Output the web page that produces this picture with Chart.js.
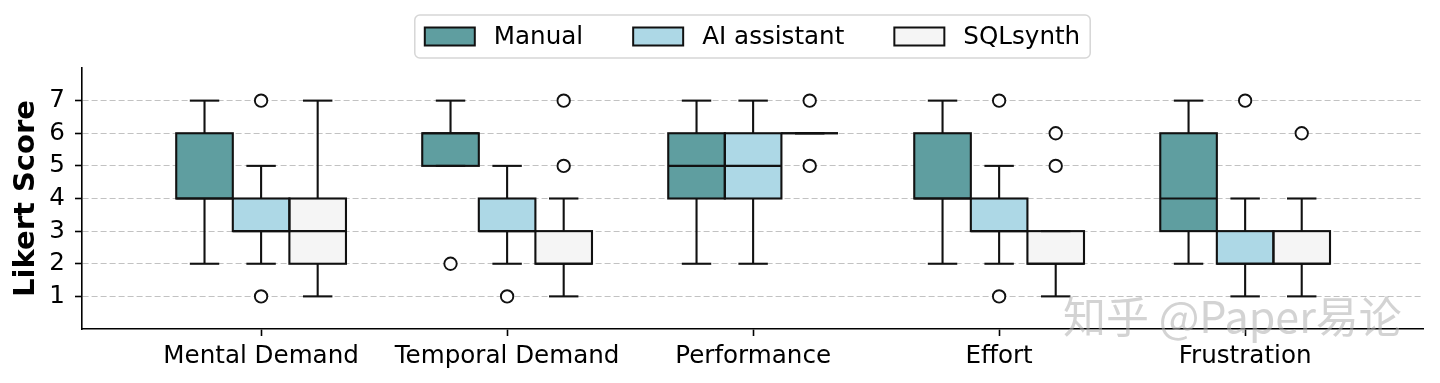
<!DOCTYPE html>
<html>
<head>
<meta charset="utf-8">
<script src="https://cdn.jsdelivr.net/npm/chart.js@4.4.1/dist/chart.umd.min.js"></script>
<style>html,body{margin:0;padding:0;background:#fff}canvas{display:block}</style>
</head>
<body>
<canvas id="c" width="1440" height="383"></canvas>
<script>
// ---- data ----
const categories = ['Mental Demand', 'Temporal Demand', 'Performance', 'Effort', 'Frustration'];
const seriesNames = ['Manual', 'AI assistant', 'SQLsynth'];
const seriesColors = ['#5F9EA0', '#ADD8E6', '#F5F5F5'];
const yTickValues = [1, 2, 3, 4, 5, 6, 7];
const xTickValues = [0, 1, 2, 3, 4];

const manualQ1  = [4, 5, 4, 4, 3];
const manualQ3  = [6, 6, 6, 6, 6];
const manualMed = [4, 6, 5, 4, 4];
const manualLo  = [2, 5, 2, 2, 2];
const manualHi  = [7, 7, 7, 7, 7];
const manualOut = [[], [2], [], [], []];

const aiQ1  = [3, 3, 4, 3, 2];
const aiQ3  = [4, 4, 6, 4, 3];
const aiMed = [3, 3, 5, 3, 2];
const aiLo  = [2, 2, 2, 2, 1];
const aiHi  = [5, 5, 7, 5, 4];
const aiOut = [[1, 7], [1], [], [1, 7], [7]];

const sqlQ1  = [2, 2, 6, 2, 2];
const sqlQ3  = [4, 3, 6, 3, 3];
const sqlMed = [3, 2, 6, 2, 2];
const sqlLo  = [1, 1, 6, 1, 1];
const sqlHi  = [7, 4, 6, 3, 4];
const sqlOut = [[], [5, 7], [5, 7], [5, 6], [6]];

const stats = [
  {q1: manualQ1, q3: manualQ3, med: manualMed, lo: manualLo, hi: manualHi, out: manualOut},
  {q1: aiQ1, q3: aiQ3, med: aiMed, lo: aiLo, hi: aiHi, out: aiOut},
  {q1: sqlQ1, q3: sqlQ3, med: sqlMed, lo: sqlLo, hi: sqlHi, out: sqlOut}
];

const EDGE = '#111111';
const FONT = "'DejaVu Sans', sans-serif";
const TXT = 24.6;
Chart.defaults.font.family = FONT;
Chart.defaults.color = '#000';

const datasets = seriesNames.map((name, si) => ({
  label: name,
  data: categories.map((c, i) => ({x: i, y: [stats[si].q1[i], stats[si].q3[i]]})),
  backgroundColor: seriesColors[si],
  borderWidth: 0,
  borderSkipped: false,
  categoryPercentage: 0.69,
  barPercentage: 1.0
}));

function line(ctx, x1, y1, x2, y2) {
  ctx.beginPath(); ctx.moveTo(x1, y1); ctx.lineTo(x2, y2); ctx.stroke();
}

const boxPlugin = {
  id: 'boxWhiskers',
  afterDatasetsDraw(chart) {
    const ctx = chart.ctx, ys = chart.scales.y;
    ctx.save();
    ctx.strokeStyle = EDGE;
    stats.forEach((s, di) => {
      const meta = chart.getDatasetMeta(di);
      meta.data.forEach((bar, i) => {
        const cx = bar.x, w = bar.width;
        const yq1 = ys.getPixelForValue(s.q1[i]);
        const yq3 = ys.getPixelForValue(s.q3[i]);
        const ylo = ys.getPixelForValue(s.lo[i]);
        const yhi = ys.getPixelForValue(s.hi[i]);
        const ymed = ys.getPixelForValue(s.med[i]);
        ctx.lineWidth = 2.1;
        // whiskers
        line(ctx, cx, yq1, cx, ylo);
        line(ctx, cx - w * 0.26, ylo, cx + w * 0.26, ylo);
        line(ctx, cx, yq3, cx, yhi);
        line(ctx, cx - w * 0.26, yhi, cx + w * 0.26, yhi);
        // box outline
        ctx.strokeRect(cx - w / 2, yq3, w, yq1 - yq3);
        // median
        line(ctx, cx - w / 2, ymed, cx + w / 2, ymed);
        // outliers
        ctx.lineWidth = 1.9;
        s.out[i].forEach(v => {
          const py = ys.getPixelForValue(v);
          ctx.beginPath();
          ctx.arc(cx, py, 6.2, 0, Math.PI * 2);
          ctx.fillStyle = '#fff';
          ctx.fill();
          ctx.stroke();
        });
      });
    });
    ctx.restore();
  }
};

const legendPlugin = {
  id: 'boxLegend',
  afterDraw(chart) {
    const ctx = chart.ctx, ca = chart.chartArea;
    ctx.save();
    ctx.font = TXT + 'px ' + FONT;
    const sw = 50, sh = 18, gapText = 19, gapItem = 50, padX = 10;
    const widths = seriesNames.map(n => ctx.measureText(n).width);
    let total = padX * 2 + gapItem * (seriesNames.length - 1);
    widths.forEach(w => total += sw + gapText + w);
    const cxm = (ca.left + ca.right) / 2;
    const left = cxm - total / 2, top = 15, h = 43;
    ctx.beginPath();
    ctx.roundRect(left, top, total, h, 5);
    ctx.fillStyle = 'rgba(255,255,255,0.8)';
    ctx.fill();
    ctx.strokeStyle = '#d6d6d6';
    ctx.lineWidth = 1.5;
    ctx.stroke();
    let x = left + padX;
    const cy = top + h / 2;
    seriesNames.forEach((n, i) => {
      ctx.fillStyle = seriesColors[i];
      ctx.fillRect(x, cy - sh / 2, sw, sh);
      ctx.strokeStyle = EDGE;
      ctx.lineWidth = 2;
      ctx.strokeRect(x, cy - sh / 2, sw, sh);
      ctx.fillStyle = '#000';
      ctx.textBaseline = 'middle';
      ctx.textAlign = 'left';
      ctx.fillText(n, x + sw + gapText, cy + 1);
      x += sw + gapText + widths[i] + gapItem;
    });
    // watermark
    ctx.font = '43px "Noto Sans CJK SC"';
    ctx.textAlign = 'left';
    ctx.textBaseline = 'middle';
    ctx.fillStyle = 'rgba(175,175,175,0.55)';
    ctx.fillText('知乎 @Paper易论', 1063, 317);
    ctx.restore();
  }
};

new Chart(document.getElementById('c'), {
  type: 'bar',
  data: {datasets},
  plugins: [boxPlugin, legendPlugin],
  options: {
    responsive: false,
    animation: false,
    layout: {padding: {top: 68, right: 17, bottom: 0, left: 0}},
    plugins: {legend: {display: false}, tooltip: {enabled: false}},
    scales: {
      x: {
        type: 'linear',
        min: -0.728,
        max: 4.723,
        offset: false,
        afterBuildTicks: s => { s.ticks = xTickValues.map(v => ({value: v})); },
        afterFit: s => { s.height = 54; },
        grid: {display: true, offset: false, drawOnChartArea: false, drawTicks: true, tickLength: 7, tickColor: '#000', tickWidth: 1.6},
        border: {display: true, color: '#000', width: 1.6},
        ticks: {
          padding: 6,
          maxRotation: 0,
          autoSkip: false,
          color: '#000',
          font: {size: TXT},
          callback: v => categories[v]
        }
      },
      y: {
        min: 0,
        max: 8,
        afterBuildTicks: s => { s.ticks = yTickValues.map(v => ({value: v})); },
        afterFit: s => { s.width = 82; },
        grid: {color: '#c2c2c2', lineWidth: 1, drawTicks: true, tickLength: 7, tickColor: '#000', tickWidth: 1.6, tickBorderDash: []},
        border: {display: true, color: '#000', width: 1.6, dash: [6, 3]},
        ticks: {padding: 10, color: '#000', font: {size: TXT}},
        title: {display: true, text: 'Likert Score', color: '#000', font: {size: 29, weight: 'bold'}, padding: {top: 9, bottom: 0}}
      }
    }
  }
});
</script>
</body>
</html>
